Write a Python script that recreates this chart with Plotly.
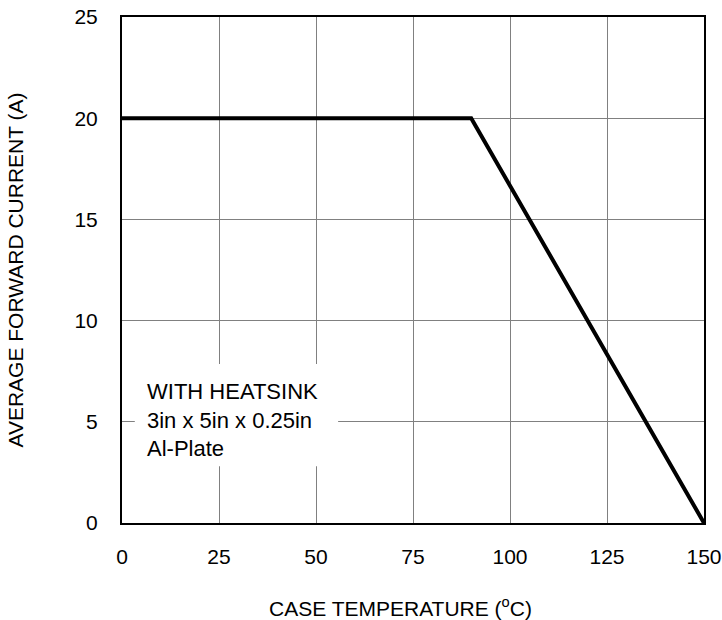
import plotly.graph_objects as go

temp_c = [0, 90, 150]
current_a = [20, 20, 0]
x_ticks = [0, 25, 50, 75, 100, 125, 150]
y_ticks = [0, 5, 10, 15, 20, 25]
note_lines = ["WITH HEATSINK", "3in x 5in x 0.25in", "Al-Plate"]

FONT = "Liberation Sans, Arial, sans-serif"
FS = 21

L, R, T, B = 122, 18, 17, 97
PW, PH = 722 - L - R, 620 - T - B

fig = go.Figure()
fig.add_trace(go.Scatter(x=temp_c, y=current_a, mode="lines",
                         line=dict(color="black", width=4), showlegend=False,
                         hoverinfo="skip"))

fig.add_shape(type="rect", xref="x", yref="y", x0=3.3, x1=55.7, y0=2.8, y1=7.85,
              fillcolor="white", line=dict(width=0), layer="above")
fig.add_annotation(x=6.0, y=5.1, xref="x", yref="y", text="<br>".join(note_lines),
                   showarrow=False, xanchor="left", yanchor="middle", align="left",
                   font=dict(family=FONT, size=22, color="black"))

fig.update_xaxes(range=[0, 150], tickvals=x_ticks, showgrid=True, gridcolor="#808080",
                 gridwidth=1, showline=True, linecolor="black", linewidth=2, mirror=True,
                 zeroline=False, ticks="", ticklabelstandoff=14, ticklabeloverflow="allow",
                 tickfont=dict(family=FONT, size=FS, color="black"))
fig.update_yaxes(range=[0, 25], tickvals=y_ticks, showgrid=True, gridcolor="#808080",
                 gridwidth=1, showline=True, linecolor="black", linewidth=2, mirror=True,
                 zeroline=False, ticks="", ticklabelstandoff=18, ticklabeloverflow="allow",
                 tickfont=dict(family=FONT, size=FS, color="black"),
                 title=dict(text="AVERAGE FORWARD CURRENT (A)", standoff=45,
                            font=dict(family=FONT, size=FS, color="black")))

# x-axis title placed slightly left of centre as in the reference
fig.add_annotation(x=(400 - L) / PW, y=-(607 - 523) / PH, xref="paper", yref="paper",
                   text="CASE TEMPERATURE (<sup>o</sup>C)", showarrow=False,
                   xanchor="center", yanchor="middle",
                   font=dict(family=FONT, size=FS, color="black"))

fig.update_layout(width=722, height=620, margin=dict(l=L, r=R, t=T, b=B, autoexpand=False),
                  plot_bgcolor="white", paper_bgcolor="white",
                  font=dict(family=FONT, color="black"))

fig.write_html("out.html", config={"displayModeBar": False},
               post_script="document.body.style.margin='0';")
